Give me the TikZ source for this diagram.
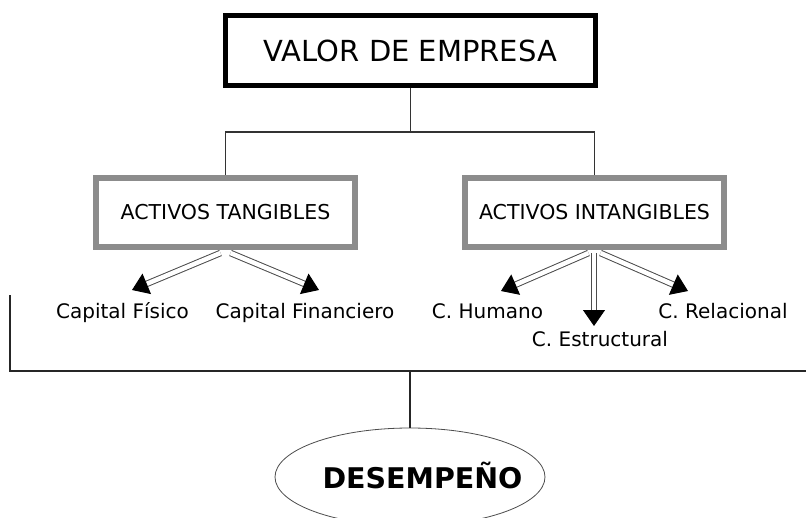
\documentclass[tikz,border=0pt]{standalone}
\usepackage{fontspec}
\setmainfont{DejaVu Sans}
\usetikzlibrary{arrows.meta,shapes.geometric}

\begin{document}
\begin{tikzpicture}[
  x=1pt, y=-1pt,
  topbox/.style={draw=black, line width=5pt, fill=white, minimum width=370pt, minimum height=70pt, inner sep=0pt, font=\fontsize{29}{34}\selectfont},
  assetbox/.style={draw=black!45, line width=6pt, fill=white, minimum width=259pt, minimum height=69pt, inner sep=0pt, font=\fontsize{20.5}{24}\selectfont},
  item/.style={inner sep=0pt, anchor=base, font=\fontsize{20}{24}\selectfont},
  perfbox/.style={ellipse, draw=black!70, line width=0.8pt, fill=white, minimum width=270pt, minimum height=98pt, inner sep=0pt},
  perftext/.style={inner sep=0pt, anchor=base, font=\bfseries\fontsize{28.5}{32}\selectfont},
  link/.style={draw=black!80, line width=1.3pt},
  branch/.style={draw=black!70, line width=1pt, double=white, double distance=4.5pt, -{Triangle[length=16pt, width=22pt, color=black]}},
  bracket/.style={draw=black!85, line width=1.4pt}
]
\clip (0,0) rectangle (806,517);

\node[topbox] (valor) at (410.5,50.5) {VALOR DE EMPRESA};
\coordinate (split) at (410.5,132);

\node[assetbox] (tang) at (225.5,212.5) {ACTIVOS TANGIBLES};
\node[assetbox] (intang) at (594.5,212.5) {ACTIVOS INTANGIBLES};

\draw[link] (valor.south) -- (split);
\draw[link] (split) -| (tang.north);
\draw[link] (split) -| (intang.north);

\node[item] (fisico) at (122.5,318) {Capital Físico};
\node[item] (financ) at (305,318) {Capital Financiero};
\node[item] (humano) at (487.5,318) {C. Humano};
\node[item] (estruct) at (600,346) {C. Estructural};
\node[item] (relac) at (723,318) {C. Relacional};

\coordinate (tipfis) at (132,290);
\coordinate (tipfin) at (319,290);
\coordinate (tiphum) at (501,291);
\coordinate (tipest) at (594,326);
\coordinate (tiprel) at (688,291);

\draw[branch] ([xshift=-5pt,yshift=-3pt]tang.south) -- (tipfis);
\draw[branch] ([xshift=5pt,yshift=-3pt]tang.south) -- (tipfin);
\draw[branch] ([xshift=-6pt,yshift=-3pt]intang.south) -- (tiphum);
\draw[branch] ([xshift=6pt,yshift=-3pt]intang.south) -- (tiprel);
\draw[branch] ([xshift=-0.5pt,yshift=-3pt]intang.south) -- (tipest);

\coordinate (brtop) at (10,295);
\coordinate (brend) at (806,371);
\coordinate (brmid) at (410,371);
\draw[bracket] (brtop) |- (brend);

\node[perfbox] (perf) at (410,477) {};
\node[perftext] (perflabel) at (422.5,488) {DESEMPEÑO};
\draw[bracket] (brmid) -- (perf.north);

\end{tikzpicture}
\end{document}
